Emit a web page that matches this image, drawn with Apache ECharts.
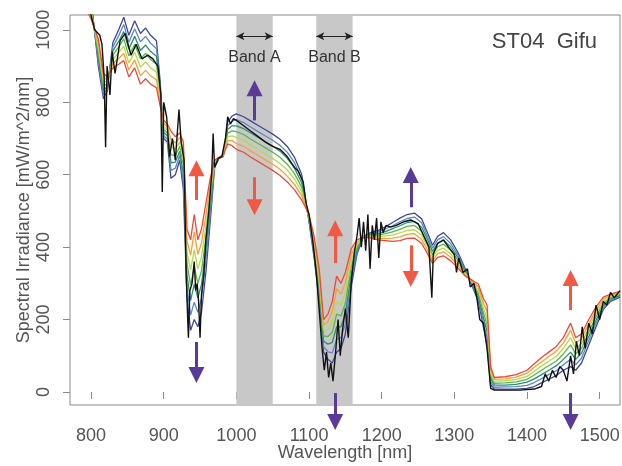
<!DOCTYPE html>
<html>
<head>
<meta charset="utf-8">
<script src="https://cdn.jsdelivr.net/npm/echarts@6/dist/echarts.min.js"></script>
<style>
  html, body { margin: 0; padding: 0; background: #fff; }
  #chart { width: 622px; height: 466px; }
</style>
</head>
<body>
<div id="chart"></div>
<script>
// wavelength grid shared by the modelled spectra [nm]
const wavelengths = [790,800,810,817,822,830,838,845,852,860,
  868,875,882,890,895,900,905,910,916,922,
  927,932,937,942,947,952,958,964,970,976,
  982,988,994,1000,1010,1020,1030,1040,1050,1060,
  1070,1080,1090,1100,1107,1114,1120,1126,1132,1138,
  1144,1150,1158,1166,1175,1185,1195,1205,1215,1225,
  1235,1245,1255,1263,1270,1277,1285,1295,1305,1315,
  1325,1333,1340,1345,1350,1355,1370,1385,1400,1410,
  1420,1430,1440,1450,1460,1467,1475,1485,1495,1505,
  1515,1528]

// modelled spectra, from the top curve in the window (navy) to the bottom one (red)
const irrNavy = [1110,1085,900,810,830,965,1000,1035,985,1025,
  990,1005,985,970,860,700,690,590,600,640,
  560,260,170,200,180,220,330,470,620,645,
  650,745,762,768,760,748,736,724,712,698,
  678,648,600,470,370,250,110,90,80,110,
  120,160,290,380,430,440,446,456,468,480,
  490,494,478,440,405,430,440,420,385,340,
  290,250,180,130,20,8,8,8,10,15,
  25,35,45,60,70,60,80,130,180,228,
  250,262]
const irrBlue = [1103,1076,913,822,837,953,984,1015,966,1003,
  967,982,963,948,848,708,698,612,618,653,
  582,292,212,248,220,258,362,490,623,646,
  651,735,748,752,744,731,719,707,695,681,
  662,633,588,473,380,265,125,111,108,145,
  150,188,308,387,430,438,442,450,459,470,
  479,483,467,430,397,420,429,410,378,337,
  293,258,193,148,28,13,14,15,18,26,
  37,48,58,75,90,75,93,142,189,234,
  253,265]
const irrTeal = [1097,1067,925,833,843,942,968,995,947,982,
  943,958,940,927,837,717,707,633,635,665,
  603,323,253,297,260,297,393,510,627,646,
  652,725,735,735,727,715,703,691,679,665,
  645,618,577,477,390,280,140,132,137,180,
  180,217,325,393,429,435,437,443,451,459,
  468,471,455,421,388,411,419,401,371,333,
  296,266,206,167,37,19,19,21,27,36,
  48,60,72,90,110,90,107,153,198,239,
  257,267]
const irrGreen = [1090,1058,938,845,850,930,953,975,928,960,
  920,935,918,905,825,725,715,655,653,678,
  625,355,295,345,300,335,425,530,630,647,
  653,715,721,719,711,698,686,674,662,648,
  629,603,565,480,400,295,155,153,165,215,
  210,245,343,400,429,433,433,437,442,449,
  457,460,444,411,380,401,408,391,364,330,
  299,274,219,185,45,24,25,28,35,47,
  60,73,85,105,130,105,120,165,208,245,
  260,270]
const irrLime = [1083,1048,950,857,857,918,937,955,908,938,
  897,912,895,883,813,733,723,677,670,690,
  647,387,337,393,340,373,457,550,633,647,
  653,705,707,703,695,681,669,657,645,631,
  613,588,553,483,410,310,170,173,193,250,
  240,273,360,407,429,430,429,431,433,439,
  446,448,433,401,372,391,397,381,356,327,
  302,282,232,203,53,29,31,35,43,57,
  72,85,98,120,150,120,133,177,217,251,
  263,273]
const irrOrange = [1077,1039,963,868,863,907,921,935,889,917,
  873,888,873,862,802,742,732,698,688,703,
  668,418,378,442,380,412,488,570,637,648,
  654,695,694,686,678,665,653,641,629,615,
  596,573,542,487,420,325,185,194,222,285,
  270,302,378,413,428,428,424,424,425,428,
  435,437,421,392,363,382,387,372,349,323,
  305,290,245,222,62,35,36,41,52,68,
  83,98,112,135,170,135,147,188,226,256,
  267,275]
const irrRed = [1070,1030,975,880,870,895,905,915,870,895,
  850,865,850,840,790,750,740,720,705,715,
  690,450,420,490,420,450,520,590,640,648,
  655,685,680,670,662,648,636,624,612,598,
  580,558,530,490,430,340,200,215,250,320,
  300,330,395,420,428,425,420,418,416,418,
  424,425,410,382,355,372,376,362,342,320,
  308,298,258,240,70,40,42,48,60,78,
  95,110,125,150,190,150,160,200,235,262,
  270,278]

// measured spectrum (black)
const measWl = [795,805,812,815,818,820,822,826,829,833,840,847,855,862,870,878,885,892,896,898,
  900,904,908,912,916,921,924,928,931,933,934,936,939,942,944,946,948,950,952,955,
  958,962,966,968,970,975,980,985,988,992,996,1000,1010,1020,1030,1040,1050,1060,1070,1080,
  1085,1092,1096,1100,1105,1110,1115,1118,1121,1124,1127,1130,1133,1135,1137,1140,1143,1146,1150,1154,
  1158,1162,1166,1169,1172,1175,1178,1181,1184,1187,1190,1193,1196,1199,1202,1206,1212,1220,1230,1240,
  1250,1258,1265,1269,1271,1277,1285,1292,1300,1303,1306,1312,1318,1322,1327,1331,1335,1340,1345,1350,
  1355,1370,1390,1410,1420,1425,1430,1435,1440,1445,1450,1455,1460,1464,1468,1472,1476,1480,1485,1490,
  1495,1500,1505,1510,1515,1520,1528]
const measVal = [1080,1000,985,960,870,676,900,820,940,880,970,990,930,960,920,930,920,900,820,552,
  800,760,650,700,640,780,690,640,320,200,150,280,300,360,280,300,250,150,270,320,
  420,500,600,714,620,645,650,700,760,740,755,750,735,720,705,690,678,670,650,620,
  610,580,520,490,420,330,200,120,60,110,40,80,30,25,120,200,100,170,230,150,
  300,380,430,480,400,470,390,490,340,460,420,480,370,470,440,460,455,460,470,475,
  465,430,400,260,380,410,420,400,380,330,370,330,340,290,300,260,200,190,120,10,
  5,5,5,8,15,50,30,60,40,70,60,30,100,50,140,100,180,120,190,160,
  240,200,250,240,275,260,280]

// axis ticks
const xTicks = [800, 900, 1000, 1100, 1200, 1300, 1400, 1500]
const yTicks = [0, 200, 400, 600, 800, 1000]

// shaded bands [from, to, label]
const bands = [[1000, 1050, 'Band A'], [1110, 1160, 'Band B']]
const bandArrowLevel = 982

// direction arrows [wavelength, from, to, kind]
const arrows = [
  [1025, 750, 839, 'purple'],
  [1025, 593, 510, 'red'],
  [945, 530, 618, 'red'],
  [945, 138, 47, 'purple'],
  [1136, 356, 452, 'red'],
  [1136, -3, -83, 'purple'],
  [1240, 510, 599, 'purple'],
  [1240, 405, 312, 'red'],
  [1460, 226, 315, 'red'],
  [1460, -3, -83, 'purple']
]

const arrowColors = { purple: '#5a3a98', red: '#f05a44' }
const curves = [
  { name: 'navy', color: '#3f4896', data: irrNavy },
  { name: 'blue', color: '#5f86c8', data: irrBlue },
  { name: 'teal', color: '#2f8f6a', data: irrTeal },
  { name: 'green', color: '#55b848', data: irrGreen },
  { name: 'lime', color: '#b9d947', data: irrLime },
  { name: 'orange', color: '#f6a03a', data: irrOrange },
  { name: 'red', color: '#ec4a36', data: irrRed }
]

const axisGray = '#8a8a8a'
const textGray = '#555'
const font = 'Liberation Sans'

const series = []
// grey bands with their arrows and labels
series.push({
  type: 'line',
  data: [],
  z: 1,
  silent: true,
  markArea: {
    silent: true,
    itemStyle: { color: '#c8c8c8' },
    data: bands.map(b => [{ xAxis: b[0] }, { xAxis: b[1] }])
  },
  markLine: {
    silent: true,
    symbol: ['arrow', 'arrow'],
    symbolSize: [6, 8],
    lineStyle: { color: '#222', width: 1, type: 'solid' },
    label: {
      show: true,
      position: 'insideMiddleBottom',
      distance: 13,
      formatter: '{b}',
      color: '#333',
      fontSize: 16,
      fontFamily: font
    },
    data: bands.map(b => [{ coord: [b[0], bandArrowLevel], name: b[2] }, { coord: [b[1], bandArrowLevel] }])
  }
})
curves.forEach(c => {
  series.push({
    name: c.name,
    type: 'line',
    z: 2,
    showSymbol: false,
    silent: true,
    lineStyle: { color: c.color, width: 1.3 },
    data: wavelengths.map((w, i) => [w, c.data[i]])
  })
})
series.push({
  name: 'measured',
  type: 'line',
  z: 3,
  showSymbol: false,
  silent: true,
  lineStyle: { color: '#111', width: 1.4 },
  data: measWl.map((w, i) => [w, measVal[i]])
})
// arrows showing which way the curves move
series.push({
  type: 'lines',
  coordinateSystem: 'cartesian2d',
  z: 4,
  clip: false,
  silent: true,
  symbol: ['none', 'triangle'],
  symbolSize: [12, 16],
  lineStyle: { width: 3, opacity: 1 },
  data: arrows.map(a => ({
    coords: [[a[0], a[1]], [a[0], a[2]]],
    lineStyle: { color: arrowColors[a[3]], width: 3, opacity: 1 }
  }))
})

const option = {
  animation: false,
  title: {
    text: 'ST04  Gifu',
    right: 25,
    top: 31,
    padding: 0,
    textStyle: { fontSize: 22, fontWeight: 'normal', color: '#444', fontFamily: font }
  },
  grid: {
    left: 70, right: 2, top: 15, bottom: 61,
    containLabel: false,
    outerBoundsMode: 'none',
    show: true,
    borderColor: axisGray,
    borderWidth: 1
  },
  xAxis: {
    type: 'value',
    min: 771,
    max: 1528,
    name: 'Wavelength [nm]',
    nameLocation: 'middle',
    nameMoveOverlap: false,
    nameGap: 39,
    nameTextStyle: { fontSize: 18, color: textGray, fontFamily: font },
    axisLine: { show: false },
    axisTick: { show: true, inside: false, length: 7, customValues: xTicks, lineStyle: { color: axisGray } },
    axisLabel: { customValues: xTicks, formatter: v => String(v), margin: 22, fontSize: 18, color: textGray, fontFamily: font },
    splitLine: { show: false }
  },
  yAxis: {
    type: 'value',
    min: -36,
    max: 1041,
    name: 'Spectral Irradiance [mW/m^2/nm]',
    nameLocation: 'middle',
    nameMoveOverlap: false,
    nameGap: 37,
    nameTextStyle: { fontSize: 18, color: textGray, fontFamily: font },
    axisLine: { show: false },
    axisTick: { show: true, inside: false, length: 7, customValues: yTicks, lineStyle: { color: axisGray } },
    axisLabel: { customValues: yTicks, formatter: v => String(v), rotate: 90, margin: 17, fontSize: 18, color: textGray, fontFamily: font },
    splitLine: { show: false }
  },
  series: series
}

const myChart = echarts.init(document.getElementById('chart'))
myChart.setOption(option)
</script>
</body>
</html>
